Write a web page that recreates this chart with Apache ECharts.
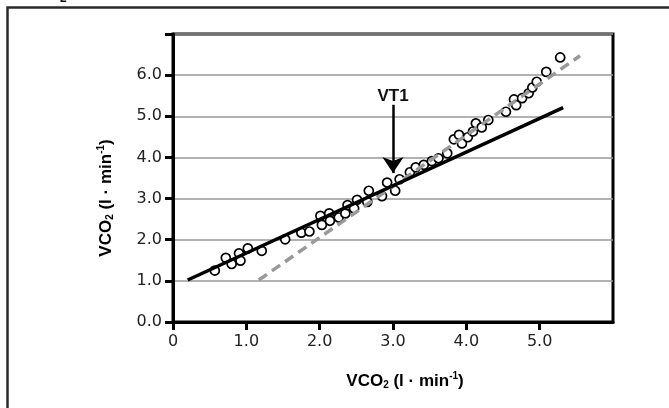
<!DOCTYPE html>
<html>
<head>
<meta charset="utf-8">
<script src="https://cdn.jsdelivr.net/npm/echarts@6/dist/echarts.min.js"></script>
<style>
html, body { margin: 0; padding: 0; background: #fff; }
#chart { width: 669px; height: 408px; }
</style>
</head>
<body>
<div id="chart"></div>
<script>
// measured points (x = VCO2, y = VCO2)
var pointsX = [0.57,0.72,0.80,0.90,0.92,1.02,1.21,1.53,1.75,1.86,2.01,2.03,2.13,2.14,2.26,2.35,2.38,2.47,2.51,2.65,
    2.67,2.85,2.92,3.03,3.09,3.23,3.31,3.42,3.53,3.62,3.74,3.83,3.90,3.94,4.02,4.09,4.13,4.21,4.30,4.54,
    4.65,4.68,4.76,4.85,4.90,4.96,5.09,5.28];
var pointsY = [1.25,1.56,1.41,1.67,1.49,1.79,1.73,2.01,2.17,2.20,2.58,2.36,2.64,2.46,2.54,2.64,2.84,2.76,2.97,2.92,
    3.19,3.06,3.39,3.19,3.47,3.64,3.76,3.82,3.91,3.98,4.10,4.44,4.55,4.34,4.49,4.63,4.83,4.73,4.91,5.11,
    5.41,5.27,5.44,5.56,5.70,5.84,6.08,6.43];
// regression lines, end points
var lowFitX = [0.20, 5.32];
var lowFitY = [1.02, 5.21];
var highFitX = [1.17, 5.55];
var highFitY = [1.02, 6.47];
// VT1 arrow
var vt1X = 3.0;
var vt1From = 5.28;
var vt1To = 3.62;
// ticks
var xTicks = [0, 1, 2, 3, 4, 5];
var yTicks = [0, 1, 2, 3, 4, 5, 6, 7];
var yLabels = [0, 1, 2, 3, 4, 5, 6];

function zip(a, b) {
    var out = [];
    for (var i = 0; i < a.length; i++) out.push([a[i], b[i]]);
    return out;
}

var titleRich = {
    b: { fontFamily: 'Liberation Sans', fontWeight: 'bold', fontSize: 17, color: '#111' },
    sub: { fontFamily: 'Liberation Sans', fontWeight: 'bold', fontSize: 10, color: '#111', padding: [8, 0, 0, 0] },
    sup: { fontFamily: 'Liberation Sans', fontWeight: 'bold', fontSize: 10, color: '#111', padding: [0, 0, 9, 0] }
};
var titleText = '{b|VCO}{sub|2}{b| (l · min}{sup|-1}{b|)}';

var myChart = echarts.init(document.getElementById('chart'));
var option = {
    animation: false,
    grid: {
        left: 173, right: 56, top: 34, bottom: 86,
        show: true, borderColor: '#000', borderWidth: 3
    },
    xAxis: {
        type: 'value', min: 0, max: 6, interval: 1,
        axisLine: { lineStyle: { color: '#000', width: 3 } },
        axisTick: { show: true, length: 8, lineStyle: { color: '#000', width: 3 }, customValues: xTicks },
        axisLabel: {
            customValues: xTicks, margin: 12,
            fontFamily: 'DejaVu Sans', fontSize: 16, color: '#222',
            formatter: function (v) { return v === 0 ? '0' : v.toFixed(1); }
        },
        splitLine: { show: false }
    },
    yAxis: {
        type: 'value', min: 0, max: 7, interval: 1,
        axisLine: { lineStyle: { color: '#000', width: 3 } },
        axisTick: { show: true, length: 8, lineStyle: { color: '#000', width: 3 }, customValues: yTicks },
        axisLabel: {
            customValues: yLabels, margin: 11,
            fontFamily: 'DejaVu Sans', fontSize: 16, color: '#222',
            formatter: function (v) { return v.toFixed(1); }
        },
        splitLine: { show: true, lineStyle: { color: '#999', width: 1.5 } }
    },
    graphic: [
        {
            type: 'polyline',
            shape: { points: [[7.5, 408], [7.5, 7.5], [669, 7.5]] },
            style: { stroke: '#2a2a2a', lineWidth: 2.5, fill: null }
        },
        {
            type: 'text', x: 60, y: -7,
            style: { text: '2', font: 'bold 12px Liberation Sans', fill: '#111' }
        },
        {
            type: 'text', x: 405, y: 381,
            style: { text: titleText, rich: titleRich, align: 'center', verticalAlign: 'middle' }
        },
        {
            type: 'text', x: 106, y: 198, rotation: Math.PI / 2,
            style: { text: titleText, rich: titleRich, align: 'center', verticalAlign: 'middle' }
        }
    ],
    series: [
        {
            type: 'line', data: zip(highFitX, highFitY), symbol: 'none', silent: true,
            lineStyle: { color: '#999', width: 3.5, type: [10, 6] }
        },
        {
            type: 'line', data: zip(lowFitX, lowFitY), symbol: 'none', silent: true,
            lineStyle: { color: '#000', width: 3.5 }
        },
        {
            type: 'scatter', data: zip(pointsX, pointsY),
            symbol: 'circle', symbolSize: 9,
            itemStyle: { color: '#fff', borderColor: '#000', borderWidth: 1.7, opacity: 1 },
            markLine: {
                silent: true,
                symbol: ['none', 'arrow'],
                symbolSize: 16,
                lineStyle: { color: '#000', width: 2.5, type: 'solid' },
                label: {
                    show: true, position: 'start', distance: 0,
                    formatter: 'VT1',
                    fontFamily: 'Liberation Sans', fontWeight: 'bold', fontSize: 17, color: '#111'
                },
                data: [[{ coord: [vt1X, vt1From] }, { coord: [vt1X, vt1To] }]]
            }
        }
    ]
};
myChart.setOption(option);
</script>
</body>
</html>
